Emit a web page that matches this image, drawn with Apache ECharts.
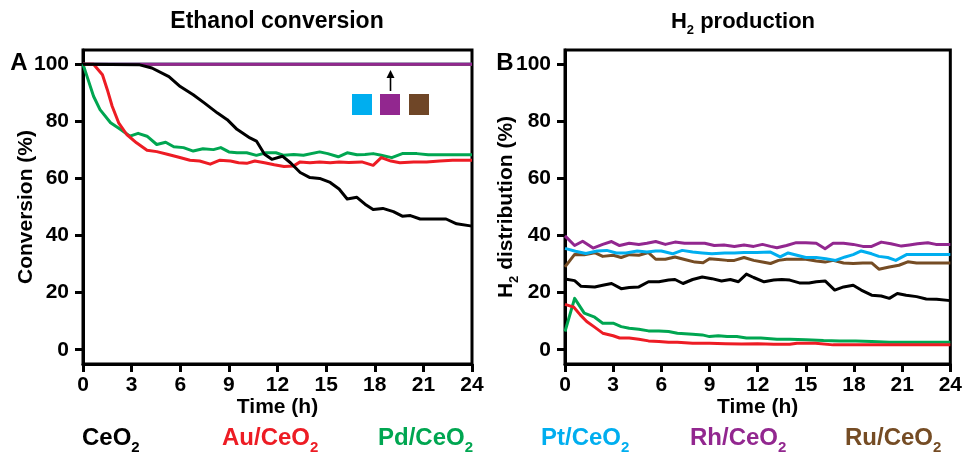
<!DOCTYPE html>
<html><head><meta charset="utf-8">
<script src="https://cdn.jsdelivr.net/npm/echarts@6/dist/echarts.min.js"></script>
<style>html,body{margin:0;padding:0;background:#fff}#c{width:965px;height:455px}</style>
</head><body><div id="c"></div>
<script>
// ---------- data ----------
const names = ['CeO2', 'Au/CeO2', 'Pd/CeO2', 'Pt/CeO2', 'Rh/CeO2', 'Ru/CeO2'];
const colors = ['#000000', '#ed1c24', '#00a651', '#00aeef', '#92278f', '#754c24'];
const xTicks = [0, 3, 6, 9, 12, 15, 18, 21, 24];
const yTicks = [0, 20, 40, 60, 80, 100];

// Panel A: Ethanol conversion (%)
const A_CeO2_t = [0,3.5,4.25,5.3,6.0,6.8,7.5,8.3,8.9,9.5,10.3,10.7,11.2,11.65,12.3,12.8,13.4,14,14.6,15.25,15.8,16.3,16.9,17.4,17.9,18.5,19.15,19.7,20.2,20.8,21.8,22.4,23.05,24];
const A_CeO2_v = [100,99.8,98.7,95.7,92.2,89.3,86.4,82.9,80.6,77.2,74.2,73.1,68.5,66.7,67.8,65.5,62.1,60.3,60.0,58.6,56.3,52.8,53.4,51.0,49.1,49.5,48.4,46.8,47.0,45.8,45.8,45.8,44.1,43.3];
const A_Au_t = [0,0.65,1.2,1.5,1.8,2.2,2.7,3.3,3.95,4.55,5.2,5.8,6.6,7.2,7.85,8.45,9.1,9.6,10.1,10.6,11.2,11.8,12.4,13,13.4,14,14.6,15.25,15.8,16.4,17.2,17.9,18.4,19,19.55,20.4,21.2,22,22.8,24];
const A_Au_v = [100,100,96.3,91.1,85.3,79.5,75.4,72.5,69.9,69.4,68.5,67.6,66.4,66.1,65.0,66.4,66.1,65.5,65.3,66.1,65.5,64.8,64.2,64.4,65.8,65.5,65.8,65.5,65.8,65.6,65.8,64.6,67.3,66.1,65.5,65.8,65.8,66.1,66.4,66.4];
const A_Pd_t = [0,0.35,0.65,1.05,1.7,2.3,2.9,3.4,3.95,4.55,5.1,5.6,6.2,6.8,7.4,8.05,8.5,9.0,9.5,10.1,10.7,11.3,11.9,12.4,13,13.6,14.6,15.1,15.75,16.3,16.9,17.4,17.9,18.4,19.05,19.7,20.6,21.3,24];
const A_Pd_v = [100,94.0,88.8,84.1,79.5,77.2,74.8,75.8,74.8,71.9,72.7,71.1,70.8,69.6,70.4,70.1,70.8,69.3,69.0,69.0,68.1,69.0,69.0,68.1,68.4,68.1,69.3,68.7,67.6,69.0,68.3,68.4,68.7,68.1,67.3,68.7,68.7,68.3,68.3];
const A_Pt_t = [0, 24];
const A_Pt_v = [100, 100];
const A_Rh_t = [0, 24];
const A_Rh_v = [100, 100];
const A_Ru_t = [0, 24];
const A_Ru_v = [100, 100];

// Panel B: H2 distribution (%)
const B_CeO2_t = [0,0.6,1.0,1.85,2.35,2.9,3.5,4.0,4.6,5.2,5.85,6.45,6.85,7.35,7.95,8.55,9.15,9.75,10.3,10.8,11.3,11.75,12.4,13.0,13.5,14.0,14.6,15.2,15.65,16.2,16.8,17.35,17.95,18.45,19.1,19.7,20.2,20.7,21.25,21.9,22.5,23.15,24];
const B_CeO2_v = [24.8,24.2,22.2,22.0,22.6,23.2,21.4,21.8,22.0,23.8,23.8,24.4,24.6,23.2,24.6,25.5,24.9,24.1,24.6,23.8,26.5,25.3,23.8,24.4,24.6,24.4,23.4,23.4,23.8,24.1,20.9,22.0,22.6,20.9,19.1,18.8,18.0,19.7,19.1,18.6,17.8,17.7,17.2];
const B_Au_t = [0,0.55,0.95,1.35,1.8,2.35,3.0,3.4,4.0,4.6,5.2,5.85,6.45,7.0,7.95,9.0,10.0,11.0,12.0,13.0,14.0,14.45,15.6,16.7,18.1,20.2,22.3,24];
const B_Au_v = [15.9,14.9,12.2,9.9,8.1,5.8,4.9,4.1,4.1,3.7,3.1,2.9,2.6,2.6,2.3,2.3,2.1,2.0,2.1,1.9,1.9,2.3,2.3,1.7,1.7,1.7,1.7,1.7];
const B_Pd_t = [0,0.6,1.2,1.85,2.35,3.0,3.5,4.0,4.6,5.2,5.85,6.45,7.0,7.95,8.55,9.0,9.55,10.1,10.7,11.3,12.2,13.2,14.0,15.0,16.1,17.1,18.1,19.1,20.2,22.3,24];
const B_Pd_v = [6.4,18.0,12.8,11.4,9.3,9.3,8.1,7.5,7.2,6.6,6.6,6.4,5.8,5.4,5.2,4.6,4.9,4.6,4.6,4.1,4.1,3.7,3.7,3.5,3.2,3.1,3.1,2.9,2.6,2.6,2.6];
const B_Pt_t = [0,0.65,1.3,2.0,2.6,3.2,3.8,4.5,5.1,5.65,6.0,6.7,7.3,7.95,8.55,9.15,9.95,10.55,11.15,11.95,12.8,13.4,13.9,14.45,15.0,15.65,16.25,16.85,17.45,17.95,18.45,19.1,19.55,20.1,20.6,21.3,22.3,24];
const B_Pt_v = [35.5,34.5,33.7,34.6,34.8,33.9,33.9,34.6,34.2,34.6,34.6,33.6,34.8,34.2,33.9,33.6,33.9,33.9,34.1,34.1,34.2,32.5,33.9,33.1,32.3,32.3,31.9,31.3,32.5,33.3,34.6,33.6,32.7,32.3,31.3,33.4,33.4,33.4];
const B_Rh_t = [0,0.6,1.1,1.75,2.35,2.9,3.4,4.0,4.6,5.1,5.65,6.25,6.85,7.45,8.1,8.7,9.3,9.9,10.55,11.15,11.75,12.3,12.8,13.2,13.8,14.4,15.0,15.65,16.2,16.7,17.35,17.95,18.55,19.1,19.7,20.3,20.95,21.45,21.95,22.6,23.1,24];
const B_Rh_v = [39.9,36.5,38.0,35.6,36.9,37.9,36.5,37.3,36.9,37.3,37.9,36.9,37.7,37.3,37.3,37.3,36.5,36.7,36.2,36.7,36.2,36.9,36.2,35.7,36.5,37.5,37.5,37.3,35.4,37.3,37.3,36.9,36.2,36.2,37.7,37.1,36.3,36.7,37.1,37.5,36.9,36.9];
const B_Ru_t = [0,0.6,1.2,1.85,2.35,3.0,3.5,4.0,4.6,5.2,5.65,6.25,6.85,7.45,8.1,8.6,9.0,9.55,10.1,10.55,11.15,11.75,12.3,12.8,13.3,13.8,14.45,15.0,15.65,16.2,16.7,17.35,17.95,18.55,19.1,19.55,20.2,20.8,21.35,21.9,22.7,24];
const B_Ru_v = [29.0,33.4,33.3,34.0,32.7,33.1,32.3,33.3,33.1,34.0,31.7,31.7,32.5,31.6,30.7,30.5,31.9,31.6,31.3,31.3,32.3,31.3,30.7,30.2,31.3,31.7,31.7,31.7,31.1,30.7,31.3,30.4,30.2,30.4,30.4,28.2,29.0,29.6,30.8,30.4,30.4,30.4];

// ---------- chart ----------
const F = '"Liberation Sans", Arial, Helvetica, sans-serif';
const pairs = (t, v) => t.map((x, i) => [x, v[i]]);

const panelA = { CeO2: [A_CeO2_t, A_CeO2_v], Au: [A_Au_t, A_Au_v], Pd: [A_Pd_t, A_Pd_v], Pt: [A_Pt_t, A_Pt_v], Rh: [A_Rh_t, A_Rh_v], Ru: [A_Ru_t, A_Ru_v] };
const panelB = { CeO2: [B_CeO2_t, B_CeO2_v], Au: [B_Au_t, B_Au_v], Pd: [B_Pd_t, B_Pd_v], Pt: [B_Pt_t, B_Pt_v], Rh: [B_Rh_t, B_Rh_v], Ru: [B_Ru_t, B_Ru_v] };
const keys = ['CeO2', 'Au', 'Pd', 'Pt', 'Rh', 'Ru'];
const orderA = ['Pt', 'Ru', 'Rh', 'Pd', 'Au', 'CeO2'];
const orderB = ['Ru', 'Pt', 'Rh', 'CeO2', 'Pd', 'Au'];

function mkSeries(panel, order, gi) {
  return order.map((k, z) => {
    const i = keys.indexOf(k);
    return {
      type: 'line', name: names[i], xAxisIndex: gi, yAxisIndex: gi,
      data: pairs(panel[k][0], panel[k][1]),
      showSymbol: false, symbol: 'none', z: 2 + z * 0.01,
      color: colors[i],
      lineStyle: { color: colors[i], width: 3, join: 'round' }
    };
  });
}

const lbl = { fontSize: 21, fontWeight: 'bold', color: '#000', fontFamily: F };
function xAx(gi) {
  return {
    gridIndex: gi, type: 'value', min: 0, max: 24, interval: 3,
    axisLine: { show: true, onZero: false, lineStyle: { color: '#000', width: 3 } },
    axisTick: { show: true, length: 8, lineStyle: { color: '#000', width: 3 } },
    axisLabel: Object.assign({ margin: 11, showMaxLabel: true, showMinLabel: true }, lbl),
    splitLine: { show: false },
    name: 'Time (h)', nameLocation: 'middle', nameGap: 33, nameMoveOverlap: false,
    nameTextStyle: { fontSize: 21, fontWeight: 'bold', color: '#000', fontFamily: F }
  };
}
function yAx(gi, name, gap, rich) {
  return {
    gridIndex: gi, type: 'value', min: -5, max: 105,
    axisLine: { show: true, onZero: false, lineStyle: { color: '#000', width: 3 } },
    axisTick: { show: true, length: 8, customValues: yTicks, lineStyle: { color: '#000', width: 3 } },
    axisLabel: Object.assign({ margin: 14, customValues: yTicks }, lbl),
    splitLine: { show: false },
    name: name, nameLocation: 'middle', nameGap: gap, nameMoveOverlap: false,
    nameTextStyle: Object.assign({ fontSize: 21, fontWeight: 'bold', color: '#000', fontFamily: F }, rich ? { rich: rich } : {})
  };
}

const subRich = {
  m: { fontSize: 21, fontWeight: 'bold', color: '#000', fontFamily: F, lineHeight: 30 },
  s: { fontSize: 13, fontWeight: 'bold', color: '#000', fontFamily: F, lineHeight: 13, verticalAlign: 'bottom' }
};

const legendX = [82, 222, 378, 541, 690, 845];
const legends = names.map((n, i) => ({
  data: [{ name: n }],
  left: legendX[i] - 5, top: 426, icon: 'none', itemWidth: 0, itemHeight: 14, itemGap: 0, padding: 0,
  selectedMode: false,
  formatter: nm => '{m|' + nm.slice(0, -1) + '}{s|2}',
  textStyle: {
    color: colors[i],
    rich: {
      m: { fontSize: 24, fontWeight: 'bold', fontFamily: F, color: colors[i], lineHeight: 34 },
      s: { fontSize: 15, fontWeight: 'bold', fontFamily: F, color: colors[i], lineHeight: 15, verticalAlign: 'bottom' }
    }
  }
}));

const option = {
  animation: false,
  backgroundColor: '#fff',
  grid: [
    { left: 83, right: 493, top: 50, bottom: 91, show: true, borderColor: '#000', borderWidth: 3, backgroundColor: 'transparent' },
    { left: 565, right: 10, top: 50, bottom: 91, show: true, borderColor: '#000', borderWidth: 3, backgroundColor: 'transparent' }
  ],
  xAxis: [xAx(0), xAx(1)],
  yAxis: [
    yAx(0, 'Conversion (%)', 46),
    yAx(1, '{m|H}{s|2}{m| distribution (%)}', 44, subRich)
  ],
  legend: legends,
  series: mkSeries(panelA, orderA, 0).concat(mkSeries(panelB, orderB, 1)),
  graphic: [
    { type: 'text', x: 277, y: 22, style: { text: 'Ethanol conversion', align: 'center', verticalAlign: 'middle', fill: '#000', font: 'bold 23px ' + F } },
    { type: 'text', x: 743, y: 22, style: { text: '{m|H}{s|2}{m| production}', align: 'center', verticalAlign: 'middle', fill: '#000',
        rich: { m: { fontSize: 22, fontWeight: 'bold', fontFamily: F, fill: '#000', lineHeight: 30 }, s: { fontSize: 13, fontWeight: 'bold', fontFamily: F, fill: '#000', lineHeight: 13, verticalAlign: 'bottom' } } } },
    { type: 'text', x: 19, y: 63, style: { text: 'A', align: 'center', verticalAlign: 'middle', fill: '#000', font: 'bold 24px ' + F } },
    { type: 'text', x: 505, y: 63, style: { text: 'B', align: 'center', verticalAlign: 'middle', fill: '#000', font: 'bold 24px ' + F } },
    { type: 'rect', shape: { x: 352, y: 94, width: 20, height: 21 }, style: { fill: '#00aeef' } },
    { type: 'rect', shape: { x: 380, y: 94, width: 20, height: 21 }, style: { fill: '#92278f' } },
    { type: 'rect', shape: { x: 409, y: 94, width: 20, height: 21 }, style: { fill: '#6f4627' } },
    { type: 'line', shape: { x1: 390.5, y1: 76, x2: 390.5, y2: 91 }, style: { stroke: '#000', lineWidth: 1.6 } },
    { type: 'polygon', shape: { points: [[386.5, 78], [390.5, 70], [394.5, 78]] }, style: { fill: '#000' } }
  ]
};

const chart = echarts.init(document.getElementById('c'), null, { renderer: 'canvas' });
chart.setOption(option);
</script></body></html>
